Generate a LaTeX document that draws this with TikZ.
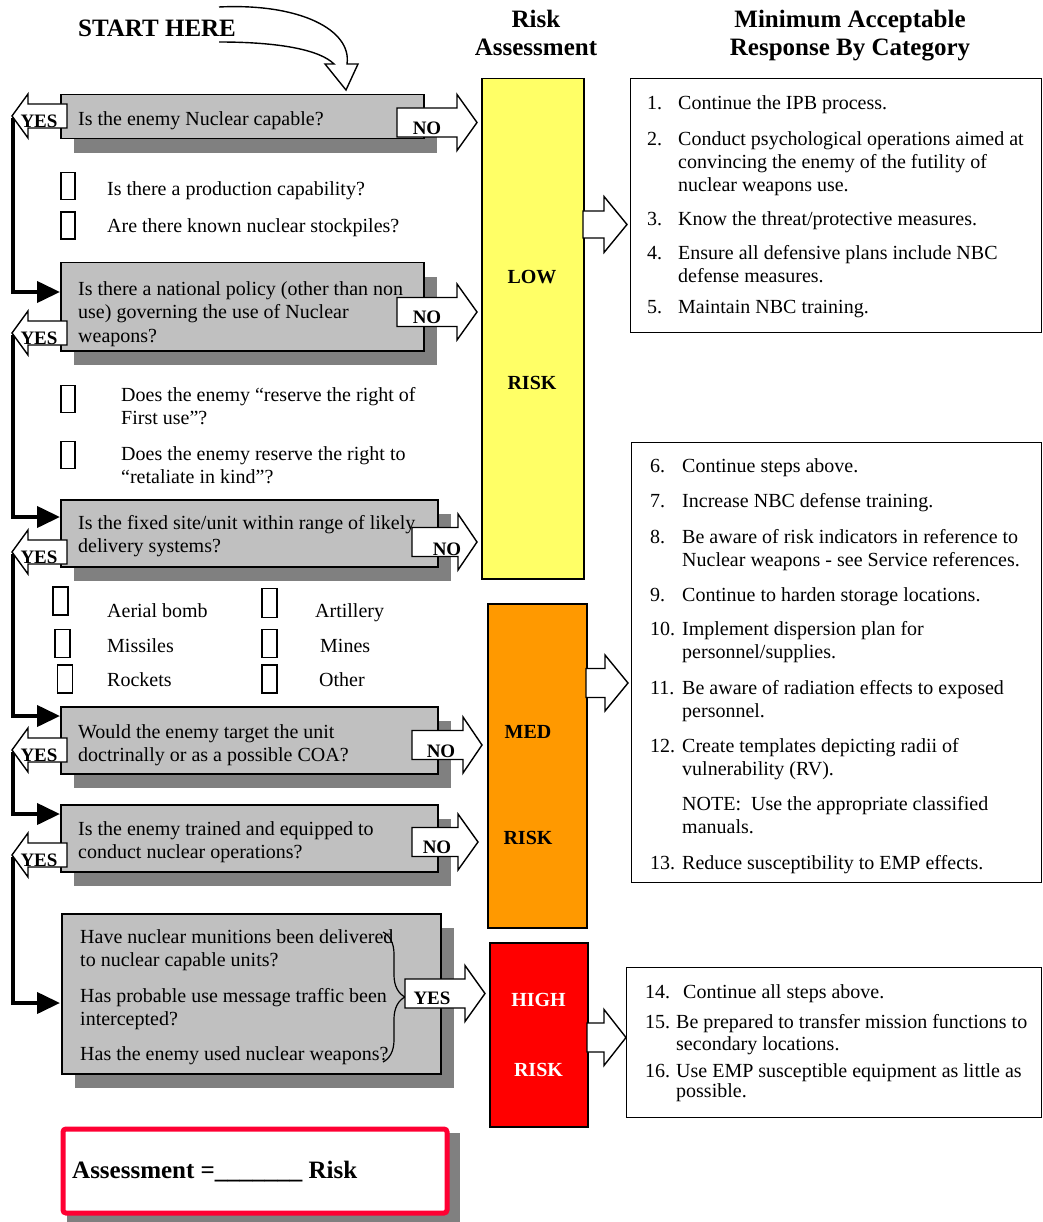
\documentclass[tikz,border=0pt]{standalone}
\usepackage{fontspec}
\setmainfont{Liberation Serif}
\usetikzlibrary{arrows.meta,shadows,decorations.pathreplacing}
\definecolor{boxgray}{HTML}{C0C0C0}
\definecolor{shadowgray}{HTML}{808080}
\definecolor{lowy}{HTML}{FFFF66}
\definecolor{medo}{HTML}{FF9900}
\definecolor{highr}{HTML}{FF0000}
\definecolor{assessred}{HTML}{FF0033}
\tikzset{
  blockarrow/.style={draw=black, fill=white, line width=1.4pt, line join=miter},
  qbox/.style={draw=black, line width=1.5pt, fill=boxgray, anchor=north west, inner sep=0,
    drop shadow={shadow xshift=13pt, shadow yshift=-14pt, fill=shadowgray, opacity=1, draw=none}},
  qtext/.style={anchor=base west, inner sep=0, align=left, font=\fontsize{20}{23.5}\selectfont},
  ltext/.style={anchor=base west, inner sep=0, align=left, font=\fontsize{20}{23}\selectfont},
  yn/.style={inner sep=0, font=\bfseries\fontsize{19}{22}\selectfont},
  hdr/.style={inner sep=0, align=center, anchor=base, font=\bfseries\fontsize{25}{28}\selectfont},
  risklbl/.style={inner sep=0, font=\bfseries\fontsize{20}{22}\selectfont},
  riskbox/.style={draw=black, line width=1.5pt, anchor=north west, inner sep=0},
  respbox/.style={draw=black, line width=1.3pt, anchor=north west, inner sep=0, fill=white},
  chk/.style={draw=black, line width=1.2pt, inner sep=0, minimum width=14, minimum height=27},
  conn/.style={line width=4pt, -{Triangle[length=23pt,width=21pt]}},
}
\newcommand\BlockArrR[5]{%
  \draw[blockarrow] ({#1},{#4-#5}) -- ({#2},{#4-#5}) -- ({#2},{#4-28}) -- ({#3},{#4})
    -- ({#2},{#4+28}) -- ({#2},{#4+#5}) -- ({#1},{#4+#5}) -- cycle;}
\newcommand\BlockArrL[1]{%
  \draw[blockarrow] (67,{#1-12}) -- (28,{#1-12}) -- (28,{#1-22}) -- (12,{#1})
    -- (28,{#1+22}) -- (28,{#1+12}) -- (67,{#1+12}) -- cycle;}
\begin{document}
\begin{tikzpicture}[x=1pt,y=-1pt]
\useasboundingbox (0,0) rectangle (1042,1222);

% ---- start arrow and headers (multi-line nodes: anchor is the last line's baseline)
\draw[blockarrow] (219,7) .. controls (300,3) and (352,30) .. (347,64) -- (358,64) -- (346,90)
  -- (325,64) -- (334,64) .. controls (320,50) and (280,42) .. (219,42);
\node[hdr, anchor=base west] (start) at (78,37) {START HERE};
\node[hdr] (hrisk) at (536,56) {Risk\\Assessment};
\node[hdr] (hresp) at (850,56) {Minimum Acceptable\\Response By Category};

% ---- connector coordinates
\coordinate (y1) at (13,118);
\coordinate (y2) at (13,335);
\coordinate (y3) at (13,554);
\coordinate (y4) at (13,752);
\coordinate (y5) at (13,857);
\coordinate (q2in) at (60,292);
\coordinate (q3in) at (60,517);
\coordinate (q4in) at (60,716);
\coordinate (q5in) at (60,814);
\coordinate (q6in) at (60,1003);
\draw[conn] (y1) |- (q2in);
\draw[conn] (y2) |- (q3in);
\draw[conn] (y3) |- (q4in);
\draw[conn] (y4) |- (q5in);
\draw[conn] (y5) |- (q6in);

% ---- question boxes
\node[qbox, minimum width=363, minimum height=44] (q1) at (60,94) {};
\node[qbox, minimum width=363, minimum height=88] (q2) at (60,262) {};
\node[qbox, minimum width=377, minimum height=67] (q3) at (60,499) {};
\node[qbox, minimum width=377, minimum height=67] (q4) at (60,706) {};
\node[qbox, minimum width=377, minimum height=67] (q5) at (60,804) {};
\node[qbox, minimum width=379, minimum height=160] (q6) at (61,913) {};

\node[qtext] (q1t) at (78,126) {Is the enemy Nuclear capable?};
\node[qtext] (q2t) at (78,342) {Is there a national policy (other than non\\use) governing the use of Nuclear\\weapons?};
\node[qtext] (q3t) at (78,552.5) {Is the fixed site/unit within range of likely\\delivery systems?};
\node[qtext] (q4t) at (78,761.5) {Would the enemy target the unit\\doctrinally or as a possible COA?};
\node[qtext] (q5t) at (78,858.5) {Is the enemy trained and equipped to\\conduct nuclear operations?};
\node[qtext] (q6a) at (80,966.5) {Have nuclear munitions been delivered\\to nuclear capable units?};
\node[qtext] (q6b) at (80,1025.5) {Has probable use message traffic been\\intercepted?};
\node[qtext] (q6c) at (80,1060) {Has the enemy used nuclear weapons?};
\draw[line width=1.2pt, decorate, decoration={brace, amplitude=22pt}] (383,932) -- (383,1062);

% ---- check lists
\node[chk] (c1) at (68,186) {};
\node[chk] (c2) at (68,225.5) {};
\node[qtext] (c1t) at (107,196) {Is there a production capability?};
\node[qtext] (c2t) at (107,233) {Are there known nuclear stockpiles?};
\node[chk] (c3) at (68,399) {};
\node[chk] (c4) at (68,455) {};
\node[ltext] (c3t) at (121,424) {Does the enemy “reserve the right of\\First use”?};
\node[ltext] (c4t) at (121,483) {Does the enemy reserve the right to\\“retaliate in kind”?};
\node[chk, minimum width=15, minimum height=28] (w1) at (60.5,601) {};
\node[chk, minimum width=15, minimum height=28] (w2) at (62.5,643.5) {};
\node[chk, minimum width=15, minimum height=28] (w3) at (65,679) {};
\node[chk, minimum width=15, minimum height=29] (w4) at (269.5,603) {};
\node[chk, minimum width=15, minimum height=28] (w5) at (269.5,643.5) {};
\node[chk, minimum width=15, minimum height=28] (w6) at (269.5,679) {};
\node[qtext] (w1t) at (107,617) {Aerial bomb};
\node[qtext] (w2t) at (107,652) {Missiles};
\node[qtext] (w3t) at (107,686) {Rockets};
\node[qtext] (w4t) at (315,617) {Artillery};
\node[qtext] (w5t) at (320,652) {Mines};
\node[qtext] (w6t) at (319,686) {Other};

% ---- YES / NO block arrows
\BlockArrL{116}  \node[yn] (yes1) at (39,121) {YES};
\BlockArrL{333}  \node[yn] (yes2) at (39,338) {YES};
\BlockArrL{552}  \node[yn] (yes3) at (39,557) {YES};
\BlockArrL{750}  \node[yn] (yes4) at (39,755) {YES};
\BlockArrL{855}  \node[yn] (yes5) at (39,860) {YES};
\BlockArrR{397}{457}{477}{122.5}{14.5} \node[yn] (no1) at (427,128.5) {NO};
\BlockArrR{397}{457}{477}{312}{14.5}   \node[yn] (no2) at (427,317) {NO};
\BlockArrR{412}{458}{477}{542}{14.5}   \node[yn] (no3) at (447,549) {NO};
\BlockArrR{412}{463}{482}{745}{14.5}   \node[yn] (no4) at (441,751) {NO};
\BlockArrR{412}{458}{478}{842}{14.5}   \node[yn] (no5) at (437,847) {NO};
\BlockArrR{405}{465}{485}{993.5}{14.5} \node[yn] (yes6) at (432,998) {YES};

% ---- risk column
\node[riskbox, fill=lowy, minimum width=102, minimum height=500] (low) at (481,78) {};
\node[riskbox, fill=medo, minimum width=99, minimum height=324] (med) at (487,603) {};
\node[riskbox, fill=highr, minimum width=98, minimum height=184] (high) at (489,942) {};
\node[risklbl] (lowa) at (532,277) {LOW};
\node[risklbl] (lowb) at (532,383) {RISK};
\node[risklbl] (meda) at (528,732) {MED};
\node[risklbl] (medb) at (528,838) {RISK};
\node[risklbl, text=white] (higha) at (538.5,1000) {HIGH};
\node[risklbl, text=white] (highb) at (538.5,1070) {RISK};

% ---- response boxes
\node[respbox, minimum width=411, minimum height=254] (r1) at (630,78) {};
\node[respbox, minimum width=410, minimum height=440] (r2) at (631,442) {};
\node[respbox, minimum width=415, minimum height=150] (r3) at (626,967) {};
\BlockArrR{583}{604}{627}{224.5}{13.5}
\BlockArrR{586}{605}{628}{683}{14.5}
\BlockArrR{587}{604}{626}{1037.5}{14.5}

\node[ltext] (n1) at (647,110) {1.};
\node[ltext] (i1) at (678,110) {Continue the IPB process.};
\node[ltext] (n2) at (647,146) {2.};
\node[ltext] (i2) at (678,192) {Conduct psychological operations aimed at\\convincing the enemy of the futility of\\nuclear weapons use.};
\node[ltext] (n3) at (647,226) {3.};
\node[ltext] (i3) at (678,226) {Know the threat/protective measures.};
\node[ltext] (n4) at (647,260) {4.};
\node[ltext] (i4) at (678,283) {Ensure all defensive plans include NBC\\defense measures.};
\node[ltext] (n5) at (647,313) {5.};
\node[ltext] (i5) at (678,313) {Maintain NBC training.};

\node[ltext] (n6) at (650,472) {6.};
\node[ltext] (i6) at (682,472) {Continue steps above.};
\node[ltext] (n7) at (650,507) {7.};
\node[ltext] (i7) at (682,507) {Increase NBC defense training.};
\node[ltext] (n8) at (650,543) {8.};
\node[ltext] (i8) at (682,566) {Be aware of risk indicators in reference to\\Nuclear weapons - see Service references.};
\node[ltext] (n9) at (650,601) {9.};
\node[ltext] (i9) at (682,601) {Continue to harden storage locations.};
\node[ltext] (n10) at (650,635) {10.};
\node[ltext] (i10) at (682,658) {Implement dispersion plan for\\personnel/supplies.};
\node[ltext] (n11) at (650,694) {11.};
\node[ltext] (i11) at (682,717) {Be aware of radiation effects to exposed\\personnel.};
\node[ltext] (n12) at (650,752) {12.};
\node[ltext] (i12) at (682,775) {Create templates depicting radii of\\vulnerability (RV).};
\node[ltext] (note) at (682,833) {NOTE:\ \ Use the appropriate classified\\manuals.};
\node[ltext] (n13) at (650,869) {13.};
\node[ltext] (i13) at (682,869) {Reduce susceptibility to EMP effects.};

\node[ltext] (n14) at (645,998) {14.};
\node[ltext] (i14) at (683,998) {Continue all steps above.};
\node[ltext] (n15) at (645,1028) {15.};
\node[ltext, font=\fontsize{20}{22}\selectfont] (i15) at (676,1050) {Be prepared to transfer mission functions to\\secondary locations.};
\node[ltext] (n16) at (645,1077) {16.};
\node[ltext, font=\fontsize{20}{20}\selectfont] (i16) at (676,1097) {Use EMP susceptible equipment as little as\\possible.};

% ---- assessment box
\fill[shadowgray] (67,1133) rectangle (460,1222);
\node[draw=assessred, fill=white, line width=5pt, rounded corners=3pt, anchor=north west, inner sep=0,
  minimum width=384, minimum height=84] (assess) at (60.5,1126.5) {};
\node[anchor=base west, inner sep=0, font=\bfseries\fontsize{25}{28}\selectfont] (assesst) at (72,1178)
  {Assessment =\_\_\_\_\_\_\_ Risk};
\end{tikzpicture}
\end{document}
